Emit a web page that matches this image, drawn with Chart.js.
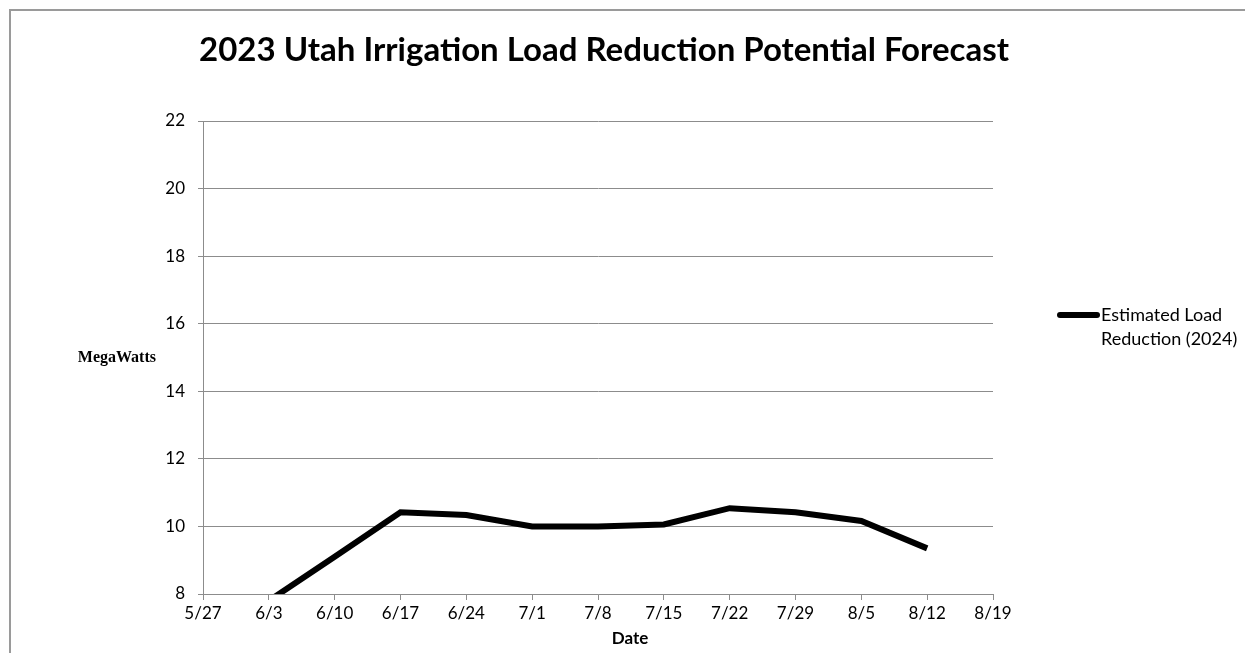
<!DOCTYPE html>
<html>
<head>
<meta charset="utf-8">
<script src="https://cdn.jsdelivr.net/npm/chart.js@4.4.0/dist/chart.umd.min.js"></script>
<style>
  html, body { margin: 0; padding: 0; background: #fff; }
  #wrap { position: relative; width: 1245px; height: 653px; }
</style>
</head>
<body>
<div id="wrap"><canvas id="loadChart" width="1245" height="653"></canvas></div>
<script>
// weekly dates on the x axis
const dates = ['5/27', '6/3', '6/10', '6/17', '6/24', '7/1', '7/8', '7/15', '7/22', '7/29', '8/5', '8/12', '8/19'];
// MW values (no value on the first and last week)
const loadReduction = [null, 7.8, 9.1, 10.42, 10.34, 10.0, 10.0, 10.06, 10.54, 10.42, 10.16, 9.35, null];
const yTicks = [8, 10, 12, 14, 16, 18, 20, 22];

const chartTitle = '2023 Utah Irrigation Load Reduction Potential Forecast';
const seriesName = ['Estimated Load', 'Reduction (2024)'];
const yTitle = 'MegaWatts';
const xTitle = 'Date';

const gridGray = '#8c8c8c';
const sans = 'Lato, "Open Sans", sans-serif';

// frame, titles and legend drawn by hand (Excel style)
const decorations = {
    id: 'decorations',
    beforeDraw(chart) {
        const c = chart.ctx;
        c.save();
        c.strokeStyle = '#9a9a9a';
        c.lineWidth = 2;
        c.beginPath();
        c.moveTo(10, 653);
        c.lineTo(10, 10);
        c.lineTo(1245, 10);
        c.stroke();
        c.restore();
    },
    afterDraw(chart) {
        const c = chart.ctx;
        c.save();
        c.fillStyle = '#000';
        c.textBaseline = 'middle';

        c.font = 'bold 33px ' + sans;
        c.textAlign = 'center';
        c.fillText(chartTitle, 604, 50);

        c.font = 'bold 17px ' + sans;
        c.fillText(xTitle, 630, 639);

        c.font = 'bold 16px "Liberation Serif", serif';
        c.textAlign = 'right';
        c.fillText(yTitle, 156, 358);

        // legend
        const ly = 315;
        c.textAlign = 'left';
        c.strokeStyle = '#000';
        c.lineWidth = 6;
        c.lineCap = 'round';
        c.beginPath();
        c.moveTo(1060, ly);
        c.lineTo(1097, ly);
        c.stroke();
        c.font = '18px ' + sans;
        c.fillText(seriesName[0], 1101, ly);
        c.fillText(seriesName[1], 1101, ly + 24);
        c.restore();
    }
};

const ctx = document.getElementById('loadChart').getContext('2d');
const myChart = new Chart(ctx, {
    type: 'line',
    data: {
        labels: dates,
        datasets: [{
            label: seriesName.join(' '),
            data: loadReduction,
            borderColor: '#000',
            backgroundColor: '#000',
            borderWidth: 6,
            pointRadius: 0,
            tension: 0,
            spanGaps: false
        }]
    },
    options: {
        responsive: false,
        animation: false,
        devicePixelRatio: 1,
        layout: {
            padding: { left: 163, right: 252, top: 121, bottom: 0 }
        },
        plugins: {
            legend: { display: false },
            title: { display: false },
            tooltip: { enabled: false }
        },
        scales: {
            x: {
                offset: false,
                grid: { display: true, drawOnChartArea: false, drawTicks: true, tickLength: 6, color: gridGray },
                border: { color: gridGray, width: 1 },
                ticks: { color: '#000', font: { family: sans, size: 17 }, padding: 3, maxRotation: 0, autoSkip: false },
                afterFit(scale) { scale.height = 59; }
            },
            y: {
                min: 8,
                max: 22,
                afterBuildTicks(scale) { scale.ticks = yTicks.map(v => ({ value: v })); },
                grid: { color: gridGray, tickLength: 5 },
                border: { color: gridGray, width: 1 },
                ticks: { color: '#000', font: { family: sans, size: 17 }, padding: 13 },
                afterFit(scale) { scale.width = 40; }
            }
        }
    },
    plugins: [decorations]
});
</script>
</body>
</html>
